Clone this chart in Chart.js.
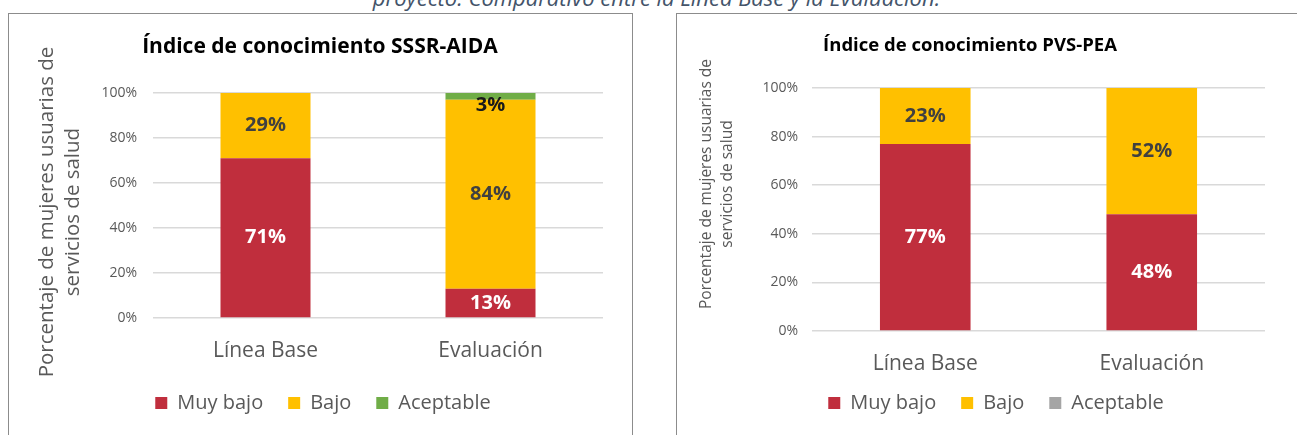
<!DOCTYPE html>
<html>
<head>
<meta charset="utf-8">
<script src="https://cdn.jsdelivr.net/npm/chart.js@4.4.1/dist/chart.umd.min.js"></script>
<style>
  html, body { margin: 0; padding: 0; background: #fff; width: 1297px; height: 435px; overflow: hidden; position: relative; font-family: "Open Sans", sans-serif; }
  .caption { position: absolute; left: 8px; width: 1297px; top: -14.5px; line-height: 22px; text-align: center; font-style: italic; font-size: 22px; color: #44546A; white-space: nowrap; }
  .box { position: absolute; border: 1px solid #8c8c8c; background: #fff; }
  #boxA { left: 8px; top: 13px; width: 623px; height: 440px; }
  #boxB { left: 676px; top: 13px; width: 636px; height: 440px; }
  canvas { display: block; }
</style>
</head>
<body>
<div class="caption">proyecto. Comparativo entre la Línea Base y la Evaluación.</div>
<div class="box" id="boxA"><div style="width:623px;height:421px"><canvas id="chartA"></canvas></div></div>
<div class="box" id="boxB"><div style="width:636px;height:421px"><canvas id="chartB"></canvas></div></div>
<script>
// ---- data ----
const categories = ['Línea Base', 'Evaluación'];
const seriesNames = ['Muy bajo', 'Bajo', 'Aceptable'];
const yTickValues = [0, 20, 40, 60, 80, 100];

const sssrTitle = 'Índice de conocimiento SSSR-AIDA';
const sssrMuyBajo = [71, 13];
const sssrBajo = [29, 84];
const sssrAceptable = [0, 3];

const pvsTitle = 'Índice de conocimiento PVS-PEA';
const pvsMuyBajo = [77, 48];
const pvsBajo = [23, 52];
const pvsAceptable = [0, 0];

const yAxisTitle = ['Porcentaje de mujeres usuarias de', 'servicios de salud'];

// ---- styles ----
const FONT = "'Open Sans', sans-serif";
const colRed = '#C02E3D', colYellow = '#FFC000', colGreen = '#70AD47', colGray = '#A5A5A5';
const labelColors = ['#FFFFFF', '#404040', '#1a1a1a'];
const textGray = '#595959';

// value labels centred in each segment
const valueLabels = {
  id: 'valueLabels',
  afterDatasetsDraw(chart) {
    const ctx = chart.ctx;
    const area = chart.chartArea;
    ctx.save();
    ctx.font = `bold 20px ${FONT}`;
    ctx.textAlign = 'center';
    ctx.textBaseline = 'middle';
    chart.data.datasets.forEach((ds, di) => {
      const meta = chart.getDatasetMeta(di);
      meta.data.forEach((el, i) => {
        const v = ds.data[i];
        if (!v) return;
        let y = (el.y + el.base) / 2;
        if (y < area.top + 12) y = area.top + 12;
        ctx.fillStyle = labelColors[di];
        ctx.fillText(v + '%', el.x, y);
      });
    });
    ctx.restore();
  }
};

// small layout adjustments of title / legend / x-label box
const boxShift = {
  id: 'boxShift',
  afterLayout(chart, args, opts) {
    if (opts.titleDx && chart.titleBlock) {
      chart.titleBlock.left += opts.titleDx;
      chart.titleBlock.right += opts.titleDx;
    }
    if (opts.legendDx && chart.legend) {
      chart.legend.left += opts.legendDx;
      chart.legend.right += opts.legendDx;
    }
    if (opts.xExtend && chart.scales.x) {
      chart.scales.x.bottom += opts.xExtend;
    }
  }
};

// two-line rotated y axis title
const yTitle = {
  id: 'yTitle',
  afterDraw(chart, args, opts) {
    const ctx = chart.ctx;
    ctx.save();
    ctx.font = `${opts.size}px ${FONT}`;
    ctx.fillStyle = textGray;
    ctx.textAlign = 'center';
    ctx.textBaseline = 'middle';
    opts.text.forEach((line, i) => {
      ctx.save();
      ctx.translate(opts.xs[i], opts.cy);
      ctx.rotate(-Math.PI / 2);
      ctx.fillText(line, 0, 0);
      ctx.restore();
    });
    ctx.restore();
  }
};

function makeChart(id, cfg) {
  const colors = [colRed, colYellow, cfg.acceptColor];
  const data = {
    labels: categories,
    datasets: cfg.series.map((arr, k) => ({
      label: seriesNames[k],
      data: arr,
      backgroundColor: colors[k],
      borderWidth: 0,
      barPercentage: 0.4,
      categoryPercentage: 1.0
    }))
  };
  return new Chart(document.getElementById(id), {
    type: 'bar',
    data,
    plugins: [valueLabels, boxShift, yTitle],
    options: {
      responsive: true,
      maintainAspectRatio: false,
      animation: false,
      layout: { padding: { left: 0, right: cfg.padRight, top: 0, bottom: 12 } },
      plugins: {
        tooltip: { enabled: false },
        boxShift: { titleDx: cfg.titleDx, legendDx: cfg.legendDx, xExtend: 40 },
        yTitle: { text: yAxisTitle, size: cfg.yTitleSize, xs: cfg.yTitleXs, cy: cfg.yTitleCy },
        title: {
          display: true,
          text: cfg.title,
          color: '#000000',
          font: { family: FONT, size: cfg.titleSize, weight: 'bold', lineHeight: 1.2 },
          padding: { top: cfg.titleTop, bottom: cfg.titleBottom }
        },
        legend: {
          position: 'bottom',
          labels: {
            color: textGray,
            font: { family: FONT, size: 20 },
            boxWidth: 12, boxHeight: 12,
            padding: 25
          }
        }
      },
      scales: {
        x: {
          stacked: true,
          grid: { display: false, drawTicks: false },
          border: { display: false },
          ticks: { color: textGray, font: { family: FONT, size: 21 }, padding: cfg.xPad },
          afterFit(s) { s.height = cfg.xHeight; }
        },
        y: {
          stacked: true,
          min: 0, max: 100,
          afterBuildTicks(s) { s.ticks = yTickValues.map(v => ({ value: v })); },
          ticks: {
            color: textGray,
            font: { family: FONT, size: 14 },
            padding: cfg.yPad,
            callback: v => v + '%'
          },
          grid: { color: '#D9D9D9', lineWidth: 1.5, drawTicks: false },
          border: { display: false },
          title: { display: false },
          afterFit(s) { s.width = cfg.yWidth; }
        }
      }
    }
  });
}

makeChart('chartA', {
  title: sssrTitle,
  series: [sssrMuyBajo, sssrBajo, sssrAceptable],
  acceptColor: colGreen,
  padRight: 29, titleDx: 14, legendDx: 17,
  titleSize: 21, titleTop: 20.4, titleBottom: 33.4,
  xHeight: 50, xPad: 20,
  yWidth: 144, yPad: 16,
  yTitleSize: 20.5, yTitleXs: [38, 64], yTitleCy: 198
});

makeChart('chartB', {
  title: pvsTitle,
  series: [pvsMuyBajo, pvsBajo, pvsAceptable],
  acceptColor: colGray,
  padRight: 48, titleDx: -1, legendDx: 25,
  titleSize: 18.5, titleTop: 20.9, titleBottom: 30.9,
  xHeight: 37, xPad: 20,
  yWidth: 135, yPad: 14,
  yTitleSize: 15.5, yTitleXs: [30, 51], yTitleCy: 170
});
</script>
</body>
</html>
